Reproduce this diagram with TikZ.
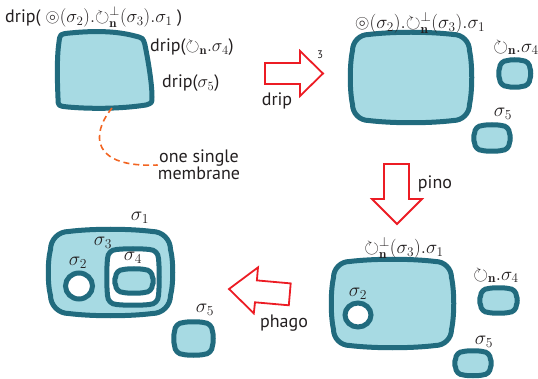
\RequirePackage{fix-cm}
\documentclass[tikz,border=0pt]{standalone}
\usepackage{amssymb}
\usepackage{fontspec}
\newfontfamily\lbl{PT Sans}
\definecolor{memb}{HTML}{216B7E}
\definecolor{cyto}{HTML}{A7DAE3}
\definecolor{arr}{HTML}{EC1C24}
\definecolor{ink}{HTML}{231F20}
\definecolor{orng}{HTML}{F26522}
\tikzset{
  blobst/.style={draw=memb, fill=cyto, line width=5pt, line join=round},
  holest/.style={draw=memb, fill=white, line width=5pt},
  bigarrow/.style={draw=arr, line width=1.8pt, fill=white, line join=miter},
  sanslbl/.style={text=ink, font=\lbl\fontsize{18}{20}\selectfont, inner sep=0pt},
  mathlbl/.style={text=ink, font=\fontsize{19}{21}\selectfont, inner sep=0pt},
  siglbl/.style={text=ink, font=\fontsize{19.5}{21}\selectfont, inner sep=0pt},
}
\newcommand\roundblob[7][]{%
 \draw[blobst,#1] ({#2+#6},#3)
 .. controls ({#2+(#4-#2)*0.35},{#3-#7}) and ({#4-(#4-#2)*0.35},{#3-#7}) .. ({#4-#6},#3)
 .. controls ({#4-0.45*#6},#3) and (#4,{#3+0.45*#6}) .. (#4,{#3+#6})
 .. controls ({#4+#7},{#3+(#5-#3)*0.35}) and ({#4+#7},{#5-(#5-#3)*0.35}) .. (#4,{#5-#6})
 .. controls (#4,{#5-0.45*#6}) and ({#4-0.45*#6},#5) .. ({#4-#6},#5)
 .. controls ({#4-(#4-#2)*0.35},{#5+#7}) and ({#2+(#4-#2)*0.35},{#5+#7}) .. ({#2+#6},#5)
 .. controls ({#2+0.45*#6},#5) and (#2,{#5-0.45*#6}) .. (#2,{#5-#6})
 .. controls ({#2-#7},{#5-(#5-#3)*0.35}) and ({#2-#7},{#3+(#5-#3)*0.35}) .. (#2,{#3+#6})
 .. controls (#2,{#3+0.45*#6}) and ({#2+0.45*#6},#3) .. ({#2+#6},#3) -- cycle;}
\newcommand\rot{\mathord{\circlearrowright}}
\newcommand\ccirc{\mathord{\circledcirc}}
\begin{document}
\begin{tikzpicture}[x=1pt,y=-1pt]
\useasboundingbox (0,0) rectangle (538,379);

% ---------- panel 1 ----------
\draw[blobst] (70,33) .. controls (100,30) and (120,32) .. (135,36)
  .. controls (143,38) .. (145,45)
  .. controls (149,65) and (152,85) .. (152,97)
  .. controls (152,103) .. (146,105)
  .. controls (120,109) and (90,109) .. (68,107)
  .. controls (58,106) .. (58,98)
  .. controls (57,75) and (57,55) .. (59,42)
  .. controls (60,34) .. (70,33) -- cycle;
\coordinate (mspot) at (112,108);
\node[sanslbl, anchor=west] (l1a) at (5,17) {drip( {\fontsize{18.5}{20}\selectfont$\ccirc(\sigma_2).\rot^{\perp}_{\mathbf{n}}(\sigma_3).\sigma_1$} )};
\node[sanslbl, anchor=west] (l1b) at (150,47) {drip($\rot_{\mathbf{n}}.\sigma_4$)};
\node[sanslbl, anchor=west] (l1c) at (162,83) {drip($\sigma_5$)};
\node[sanslbl, align=center] (single) at (199,165) {one single\\[-3pt]membrane};
\draw[orng, line width=1.6pt, dash pattern=on 6pt off 4pt] (mspot) .. controls (90,135) and (92,168) .. (single.west);

% ---------- drip arrow ----------
\draw[bigarrow] (265,63) -- (300,63) -- (300,51) -- (323,73.5) -- (300,96) -- (300,84) -- (265,84) -- cycle;
\node[sanslbl] (dripl) at (277,101) {drip};
\node[text=ink, font=\lbl\fontsize{11}{12}\selectfont, inner sep=0pt] (three) at (320,55) {3};

% ---------- panel 2 ----------
\roundblob{352.5}{34.5}{469.5}{120.5}{16}{3}
\roundblob{499.5}{60.5}{530}{86.5}{8}{1}
\roundblob{474.5}{125.5}{509.5}{150.5}{8}{1}
\node[mathlbl] (l2a) at (420,23) {$\ccirc(\sigma_2).\rot^{\perp}_{\mathbf{n}}(\sigma_3).\sigma_1$};
\node[mathlbl] (l2b) at (516,48) {$\rot_{\mathbf{n}}.\sigma_4$};
\node[siglbl] (l2c) at (503,114) {$\sigma_5$};

% ---------- pino arrow ----------
\draw[bigarrow] (384,164) -- (409,164) -- (409,199) -- (422,199) -- (397,224) -- (372,199) -- (384,199) -- cycle;
\node[sanslbl] (pinol) at (435,184) {pino};

% ---------- panel 3 ----------
\roundblob{333.5}{261.5}{451.5}{345.5}{16}{3}
\draw[holest] (358,315) ellipse [x radius=13, y radius=12];
\roundblob{480.5}{288.5}{516.5}{312.5}{8}{1}
\roundblob{455.5}{351.5}{490.5}{375}{8}{1}
\node[mathlbl] (l3a) at (404,248) {$\rot^{\perp}_{\mathbf{n}}(\sigma_3).\sigma_1$};
\node[siglbl] (l3s2) at (358,294) {$\sigma_2$};
\node[mathlbl] (l3b) at (496,276) {$\rot_{\mathbf{n}}.\sigma_4$};
\node[siglbl] (l3c) at (484,342) {$\sigma_5$};

% ---------- phago arrow ----------
\draw[bigarrow] (229,289) -- (258,267.4) -- (256.9,280.4) -- (290.7,283.4) -- (288.8,305.3) -- (255,302.3) -- (253.8,313.3) -- cycle;
\node[sanslbl] (phagol) at (284,323) {phago};

% ---------- panel 4 ----------
\roundblob{50.5}{231.5}{170.5}{313.5}{18}{3}
\roundblob[fill=white]{107.5}{249.5}{158.5}{304.5}{9}{1}
\roundblob{115.5}{269.5}{152.5}{292.5}{8}{1}
\draw[holest] (79,286) ellipse [x radius=13.5, y radius=13];
\roundblob{174.5}{322.5}{212.5}{354.5}{9}{1}
\node[siglbl] (s1) at (140,218) {$\sigma_1$};
\node[siglbl] (s3) at (103,243) {$\sigma_3$};
\node[siglbl] (s2) at (78,263) {$\sigma_2$};
\node[siglbl] (s4) at (133,258) {$\sigma_4$};
\node[siglbl] (s5) at (205,310) {$\sigma_5$};
\end{tikzpicture}
\end{document}
